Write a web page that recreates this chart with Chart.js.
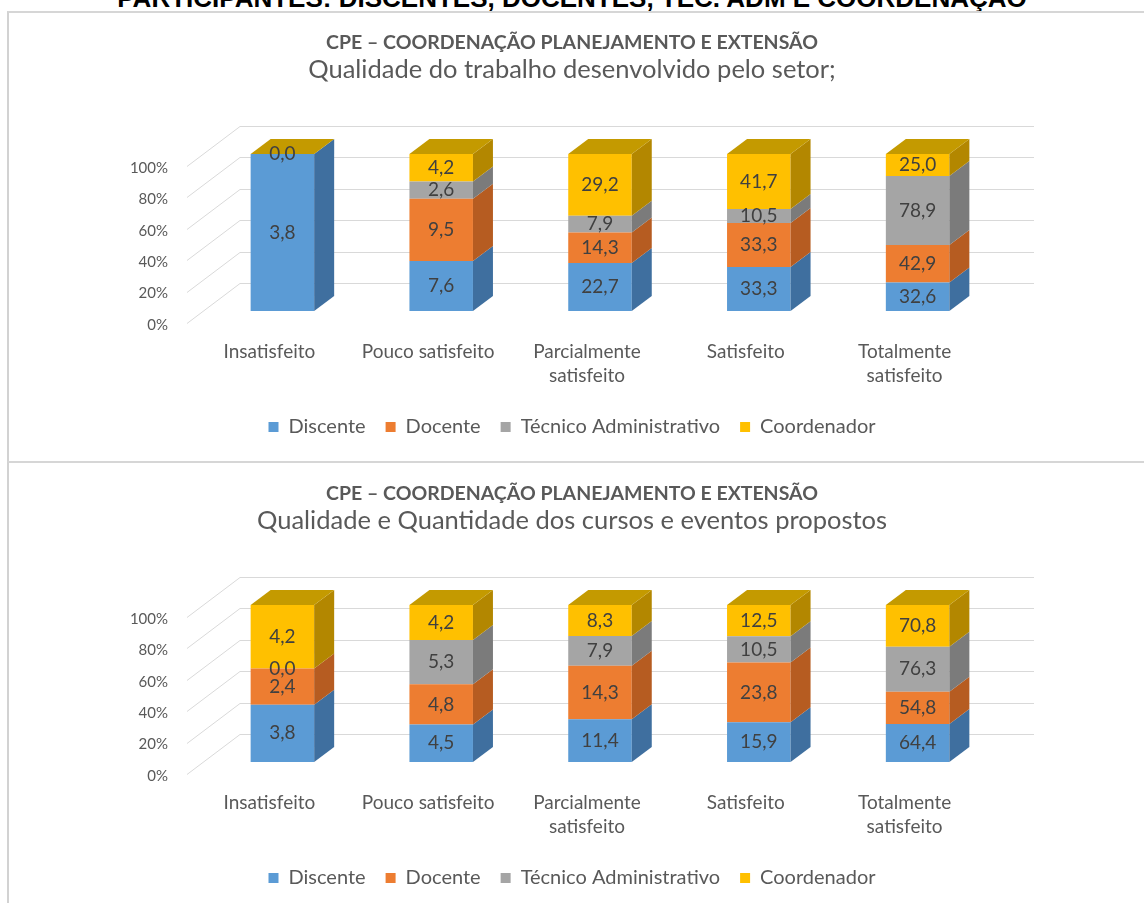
<!DOCTYPE html>
<html>
<head>
<meta charset="utf-8">
<script src="https://cdn.jsdelivr.net/npm/chart.js@4.4.1/dist/chart.umd.min.js"></script>
<style>
  html, body { margin:0; padding:0; background:#ffffff; overflow:hidden; width:1144px; height:903px; }
  #hdr { position:absolute; left:0; top:-15px; width:1144px; text-align:center; font:bold 26px/26px "Liberation Sans", Arial, sans-serif; color:#000; white-space:nowrap; }
  .frame { position:absolute; left:7px; width:1300px; border-left:2px solid #d2d2d2; border-top:2px solid #d6d6d6; box-sizing:border-box; }
  #f1 { top:11px; height:452px; }
  #f2 { top:461px; height:500px; }
  canvas { position:absolute; left:9px; }
  #c1 { top:13px; }
  #c2 { top:464px; }
</style>
</head>
<body>
<div id="hdr">PARTICIPANTES: DISCENTES, DOCENTES, TÉC. ADM E COORDENAÇÃO</div>
<div class="frame" id="f1"></div>
<div class="frame" id="f2"></div>
<canvas id="c1" width="1135" height="449"></canvas>
<canvas id="c2" width="1135" height="449"></canvas>
<script>
// ---------- data ----------
const categories = ['Insatisfeito', 'Pouco satisfeito', ['Parcialmente', 'satisfeito'], 'Satisfeito', ['Totalmente', 'satisfeito']];
const seriesNames = ['Discente', 'Docente', 'Técnico Administrativo', 'Coordenador'];
const yTicks = [0, 20, 40, 60, 80, 100];

const chartTitle = 'CPE – COORDENAÇÃO PLANEJAMENTO E EXTENSÃO';
const subtitle1 = 'Qualidade do trabalho desenvolvido pelo setor;';
const subtitle2 = 'Qualidade e Quantidade dos cursos e eventos propostos';

// Chart 1
const discente1 = [3.8, 7.6, 22.7, 33.3, 32.6];
const docente1  = [null, 9.5, 14.3, 33.3, 42.9];
const tecnico1  = [null, 2.6, 7.9, 10.5, 78.9];
const coord1    = [0.0, 4.2, 29.2, 41.7, 25.0];

// Chart 2
const discente2 = [3.8, 4.5, 11.4, 15.9, 64.4];
const docente2  = [2.4, 4.8, 14.3, 23.8, 54.8];
const tecnico2  = [0.0, 5.3, 7.9, 10.5, 76.3];
const coord2    = [4.2, 4.2, 8.3, 12.5, 70.8];

// ---------- styling ----------
const frontColors = ['#5B9BD5', '#ED7D31', '#A5A5A5', '#FFC000'];
const sideColors  = ['#3F6F9F', '#B65C21', '#7B7B7B', '#B38700'];
const topColor    = '#C49A00';
const textColor   = '#595959';
const FONT = 'Lato';

// 3D geometry (pixels)
const DX = 20, DY = 15;   // bar depth
const WX = 37, WY = 28;   // bar front -> back wall
const FX = -16, FY = 12;  // bar front -> front plane

function fmt(v) { return v.toFixed(1).replace('.', ','); }

const cube3d = {
  id: 'cube3d',
  beforeDatasetsDraw(chart) {
    const { ctx, chartArea: a, scales: { y } } = chart;
    ctx.save();
    ctx.strokeStyle = '#d9d9d9';
    ctx.lineWidth = 1;
    y.ticks.forEach(t => {
      const py = Math.round(y.getPixelForValue(t.value)) + 0.5;
      ctx.beginPath();
      ctx.moveTo(a.left + FX, py + FY);
      ctx.lineTo(a.left + WX, py - WY);
      ctx.lineTo(a.right + WX, py - WY);
      ctx.stroke();
    });
    ctx.restore();
  },
  afterDatasetsDraw(chart) {
    const ctx = chart.ctx;
    const n = chart.data.datasets.length;
    const poly = pts => {
      ctx.beginPath();
      ctx.moveTo(pts[0][0], pts[0][1]);
      for (let k = 1; k < pts.length; k++) ctx.lineTo(pts[k][0], pts[k][1]);
      ctx.closePath();
      ctx.fill();
    };
    ctx.save();
    chart.data.datasets.forEach((ds, i) => {
      const meta = chart.getDatasetMeta(i);
      meta.data.forEach((el, j) => {
        if (ds.raw[j] == null) return;
        const { x, y, base, width } = el.getProps(['x', 'y', 'base', 'width'], true);
        const xl = x - width / 2, xr = x + width / 2;
        const top = Math.min(y, base), bot = Math.max(y, base);
        ctx.fillStyle = ds.sideColor;
        poly([[xr, top], [xr + DX, top - DY], [xr + DX, bot - DY], [xr, bot]]);
        if (i === n - 1) {
          ctx.fillStyle = topColor;
          poly([[xl, top], [xl + DX, top - DY], [xr + DX, top - DY], [xr, top]]);
        }
      });
    });
    ctx.font = '19px ' + FONT;
    ctx.textAlign = 'center';
    ctx.textBaseline = 'middle';
    ctx.fillStyle = '#404040';
    chart.data.datasets.forEach((ds, i) => {
      const meta = chart.getDatasetMeta(i);
      meta.data.forEach((el, j) => {
        if (ds.raw[j] == null) return;
        const { x, y, base } = el.getProps(['x', 'y', 'base'], true);
        ctx.fillText(fmt(ds.raw[j]), x, (y + base) / 2);
      });
    });
    ctx.restore();
  }
};

function makeChart(id, sub, series) {
  const totals = categories.map((c, j) => series.reduce((s, arr) => s + (arr[j] || 0), 0));
  const datasets = series.map((arr, i) => ({
    label: seriesNames[i],
    raw: arr,
    data: arr.map((v, j) => v == null ? null : v / totals[j] * 100),
    backgroundColor: frontColors[i],
    sideColor: sideColors[i],
    borderWidth: 0,
    categoryPercentage: 1.0,
    barPercentage: 0.40
  }));
  return new Chart(document.getElementById(id), {
    type: 'bar',
    data: { labels: categories, datasets },
    plugins: [cube3d],
    options: {
      responsive: false,
      animation: false,
      devicePixelRatio: 1,
      layout: { padding: { left: 0, right: 9, top: 0, bottom: 15 } },
      plugins: {
        title: {
          display: true, text: chartTitle, color: textColor,
          font: { family: FONT, size: 19.5, weight: 'bold', lineHeight: 1.2 },
          padding: { top: 18.3, bottom: 0 }
        },
        subtitle: {
          display: true, text: sub, color: textColor,
          font: { family: FONT, size: 25.5, weight: 'normal', lineHeight: 1.2 },
          padding: { top: 0, bottom: 68.7 }
        },
        legend: {
          display: true, position: 'bottom',
          labels: {
            color: textColor, boxWidth: 10, boxHeight: 10, padding: 20,
            font: { family: FONT, size: 20 }
          }
        },
        tooltip: { enabled: false }
      },
      scales: {
        x: {
          stacked: true,
          grid: { display: false, drawTicks: false },
          border: { display: false },
          ticks: { color: textColor, font: { family: FONT, size: 19, lineHeight: 1.27 }, padding: 29, labelOffset: -13, maxRotation: 0, autoSkip: false },
          afterFit(scale) { scale.height = 86; }
        },
        y: {
          stacked: true, min: 0, max: 100,
          afterBuildTicks(scale) { scale.ticks = yTicks.map(v => ({ value: v })); },
          grid: { display: false, drawTicks: false },
          border: { display: false },
          ticks: { color: textColor, font: { family: FONT, size: 15 }, padding: 35, labelOffset: 14, callback: v => v + '%' },
          afterFit(scale) { scale.width = 194; }
        },
        // empty right-hand side space (depth of the 3D back wall), keeps titles/legend centred like the original
        yRight: {
          position: 'right', display: true,
          grid: { display: false, drawTicks: false },
          border: { display: false },
          ticks: { display: false },
          afterFit(scale) { scale.width = 138; }
        }
      }
    }
  });
}

makeChart('c1', subtitle1, [discente1, docente1, tecnico1, coord1]);
makeChart('c2', subtitle2, [discente2, docente2, tecnico2, coord2]);
</script>
</body>
</html>
